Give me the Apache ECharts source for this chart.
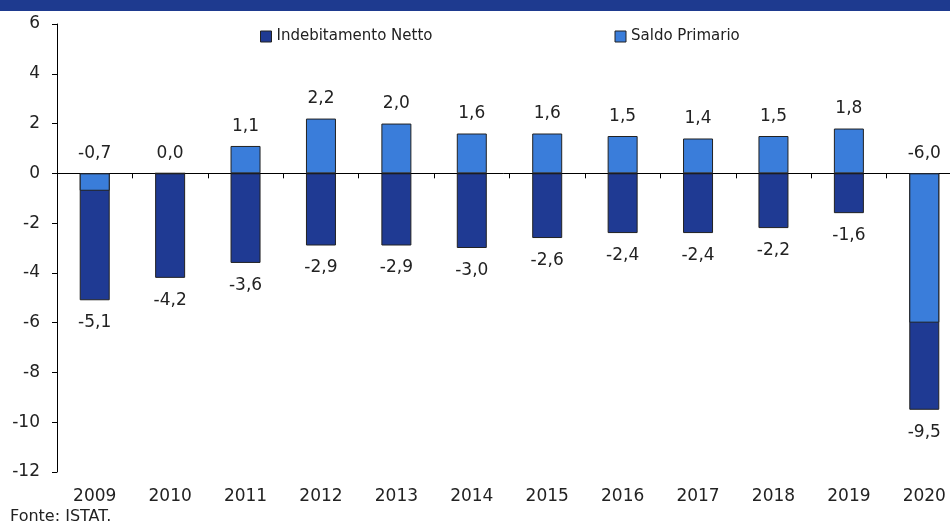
<!DOCTYPE html>
<html>
<head>
<meta charset="utf-8">
<script src="https://cdn.jsdelivr.net/npm/echarts@6/dist/echarts.min.js"></script>
<style>
  html, body { margin: 0; padding: 0; background: #fff; }
  #container { width: 950px; height: 525px; }
</style>
</head>
<body>
<div id="container"></div>
<script>
let years = ['2009', '2010', '2011', '2012', '2013', '2014', '2015', '2016', '2017', '2018', '2019', '2020']
let indebitamento = [-5.1, -4.2, -3.6, -2.9, -2.9, -3.0, -2.6, -2.4, -2.4, -2.2, -1.6, -9.5]
let saldo = [-0.7, 0.0, 1.1, 2.2, 2.0, 1.6, 1.6, 1.5, 1.4, 1.5, 1.8, -6.0]

const fontFamily = 'DejaVu Sans, Verdana, sans-serif'
const fmt = v => v.toFixed(1).replace('.', ',')

let options = {
    animation: false,
    textStyle: { fontFamily: fontFamily },
    graphic: {
        elements: [
            {
                type: 'rect',
                left: 0,
                top: 0,
                shape: { width: 950, height: 11 },
                style: { fill: '#1E3A8F' }
            },
            {
                type: 'text',
                left: 10,
                top: 509,
                style: { text: 'Fonte: ISTAT.', fontSize: 16, fill: '#222', fontFamily: fontFamily }
            }
        ]
    },
    legend: {
        top: 24,
        left: 255,
        itemGap: 182,
        itemWidth: 11,
        itemHeight: 11,
        icon: 'rect',
        textStyle: { fontSize: 15, color: '#222' },
        data: [
            { name: 'Indebitamento Netto', itemStyle: { borderColor: '#222', borderWidth: 1 } },
            { name: 'Saldo Primario', itemStyle: { borderColor: '#222', borderWidth: 1 } }
        ]
    },
    grid: {
        left: 57,
        top: 24,
        width: 905,
        bottom: 53,
        outerBoundsMode: 'none'
    },
    xAxis: [
        {
            type: 'category',
            data: years,
            axisLine: { onZero: true, lineStyle: { color: '#000', width: 1 } },
            axisTick: { show: true, inside: false, length: 5, lineStyle: { color: '#000' } },
            axisLabel: { show: false }
        },
        {
            type: 'category',
            data: years,
            position: 'bottom',
            axisLine: { show: false, onZero: false },
            axisTick: { show: false },
            axisLabel: { color: '#222', fontSize: 17, margin: 16 }
        }
    ],
    yAxis: {
        type: 'value',
        min: -12,
        max: 6,
        interval: 2,
        axisLine: { show: true, lineStyle: { color: '#000' } },
        axisTick: { show: true, length: 5, lineStyle: { color: '#000' } },
        axisLabel: { color: '#222', fontSize: 17, margin: 17 },
        splitLine: { show: false }
    },
    series: [
        {
            name: 'Indebitamento Netto',
            type: 'bar',
            xAxisIndex: 0,
            barWidth: 30,
            barGap: '-100%',
            data: indebitamento,
            itemStyle: { color: '#1F3A93', borderColor: '#222', borderWidth: 1 },
            label: {
                show: true,
                position: 'bottom',
                distance: 14,
                fontSize: 17,
                color: '#222',
                formatter: p => fmt(p.value)
            }
        },
        {
            name: 'Saldo Primario',
            type: 'bar',
            xAxisIndex: 0,
            barWidth: 30,
            barGap: '-100%',
            data: saldo,
            itemStyle: { color: '#3A7DDA', borderColor: '#222', borderWidth: 1 },
            label: {
                show: true,
                position: 'top',
                distance: 11,
                fontSize: 17,
                color: '#222',
                formatter: p => fmt(p.value)
            }
        }
    ]
}

let mychart = echarts.init(document.getElementById('container'))
mychart.setOption(options)
</script>
</body>
</html>
